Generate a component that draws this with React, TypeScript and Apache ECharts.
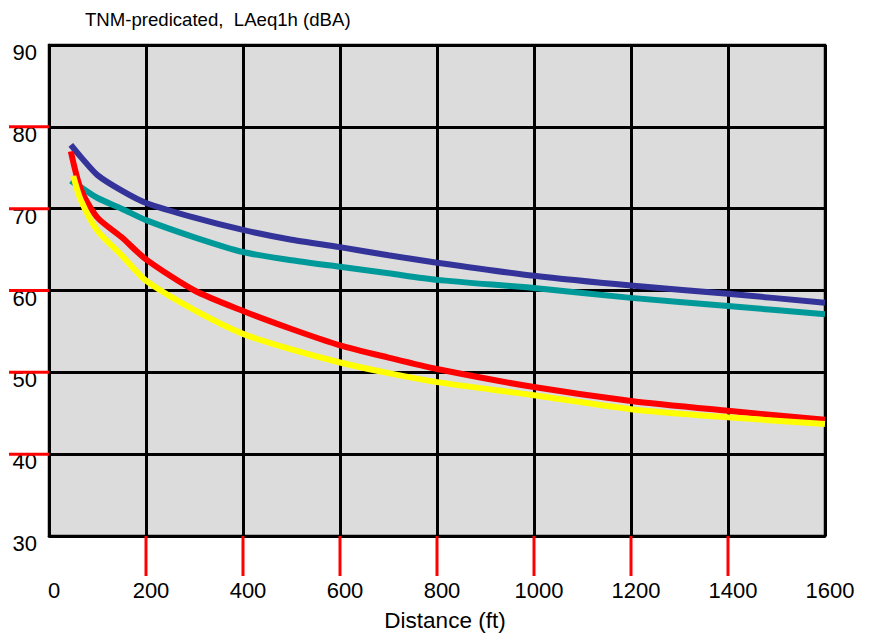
import React, { useEffect, useRef } from "react";
import * as echarts from "echarts";

const distances = [45, 66, 100, 150, 200, 300, 400, 500, 600, 700, 800, 1000, 1200, 1400, 1600];
const louderHard = [77.8, 76.3, 74.1, 72.2, 70.7, 68.9, 67.4, 66.2, 65.3, 64.3, 63.4, 61.8, 60.6, 59.6, 58.5];
const quieterHard = [73.4, 72.6, 71.3, 70.0, 68.6, 66.5, 64.7, 63.7, 62.9, 62.1, 61.3, 60.3, 59.1, 58.1, 57.1];
const louderSoft = [77.0, 72.3, 68.9, 66.5, 63.8, 60.0, 57.5, 55.3, 53.3, 51.8, 50.4, 48.2, 46.5, 45.3, 44.2];
const quieterSoftX = [50, 66, 100, 150, 200, 300, 400, 500, 600, 700, 800, 1000, 1200, 1400, 1600];
const quieterSoft = [74.0, 71.0, 67.3, 64.3, 61.2, 57.6, 54.7, 52.8, 51.2, 49.9, 48.8, 47.2, 45.5, 44.5, 43.7];

const seriesNames = [
  "Louder Pavement, Hard Ground",
  "Quieter pavement, Hard Ground",
  "Louder Pavement, Soft Ground",
  "Quieter Pavement, Soft Ground",
];
const seriesColors = ["#333399", "#009999", "#ff0000", "#ffff00"];

const xTickValues = [200, 400, 600, 800, 1000, 1200, 1400];
const yTickValues = [40, 50, 60, 70, 80];

const titleText = "TNM-predicated,  LAeq1h (dBA)";
const xAxisName = "Distance (ft)";
const noteText = "Figure From: Dr. Judith Rochat of the Volpe Center";

const FONT = "'Liberation Sans', Arial, Helvetica, sans-serif";
const X_MIN = 0;
const Y_MIN = 30;
const TICK_LEN = 40;

export default function App() {
  const ref = useRef<HTMLDivElement>(null);
  useEffect(() => {
    if (!ref.current) return;
    const chart = echarts.init(ref.current, null, { renderer: "svg" });
    const pair = (xs: number[], ys: number[]) => xs.map((x, i) => [x, ys[i]]);
    const datasets = [
      pair(distances, louderHard),
      pair(distances, quieterHard),
      pair(distances, louderSoft),
      pair(quieterSoftX, quieterSoft),
    ];
    chart.setOption({
      animation: false,
      textStyle: { fontFamily: FONT },
      title: {
        text: titleText,
        left: 80,
        top: 5,
        textStyle: { fontSize: 18.6, fontWeight: "normal", color: "#000", fontFamily: FONT },
      },
      grid: {
        left: 49,
        top: 45,
        width: 776,
        height: 498,
        show: true,
        backgroundColor: "#dcdcdc",
        borderColor: "#000",
        borderWidth: 2.5,
      },
      xAxis: {
        type: "value",
        min: X_MIN,
        max: 1600,
        interval: 200,
        name: xAxisName,
        nameLocation: "middle",
        nameGap: 73,
        nameTextStyle: { fontSize: 22.5, color: "#000", fontFamily: FONT, padding: [0, 0, 0, 16] },
        axisLine: { show: true, lineStyle: { color: "#000", width: 2.5 } },
        axisTick: { show: false },
        axisLabel: {
          fontSize: 22,
          color: "#000",
          margin: 43,
          fontFamily: FONT,
          padding: [0, 0, 0, 10],
          formatter: (v: number) => String(v),
        },
        splitLine: { show: true, lineStyle: { color: "#000", width: 3 } },
      },
      yAxis: {
        type: "value",
        min: Y_MIN,
        max: 90,
        interval: 10,
        axisLine: { show: true, lineStyle: { color: "#000", width: 2.5 } },
        axisTick: { show: false },
        axisLabel: {
          fontSize: 22,
          color: "#000",
          margin: 12,
          fontFamily: FONT,
          verticalAlign: "top",
          lineHeight: 15,
          formatter: (v: number) => String(v),
        },
        splitLine: { show: true, lineStyle: { color: "#000", width: 3 } },
      },
      series: [
        ...datasets.map((d, i) => ({
          name: seriesNames[i],
          type: "line",
          data: d,
          smooth: 0.25,
          showSymbol: false,
          symbol: "none",
          color: seriesColors[i],
          lineStyle: { color: seriesColors[i], width: 6, cap: "butt" },
          z: 3 + i,
        })),
        {
          type: "custom",
          clip: false,
          z: 10,
          data: xTickValues.map((v) => [v, Y_MIN]),
          renderItem: (params: any, api: any) => {
            const p = api.coord([api.value(0), api.value(1)]);
            return {
              type: "line",
              shape: { x1: p[0], y1: p[1], x2: p[0], y2: p[1] + TICK_LEN },
              style: { stroke: "#f00", lineWidth: 3 },
            };
          },
        },
        {
          type: "custom",
          clip: false,
          z: 10,
          data: yTickValues.map((v) => [X_MIN, v]),
          renderItem: (params: any, api: any) => {
            const p = api.coord([api.value(0), api.value(1)]);
            return {
              type: "line",
              shape: { x1: p[0] - TICK_LEN, y1: p[1], x2: p[0], y2: p[1] },
              style: { stroke: "#f00", lineWidth: 3 },
            };
          },
        },
      ],
    });

    return () => chart.dispose();
  }, []);
  return (
    <div
      ref={ref}
      style={{ position: "fixed", left: 0, top: 0, width: 871, height: 637, background: "#fff" }}
    />
  );
}
